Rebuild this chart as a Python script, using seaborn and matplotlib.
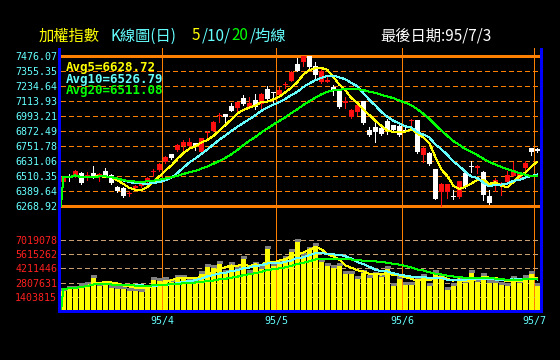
import numpy as np
import pandas as pd
import matplotlib
matplotlib.use("Agg")
import matplotlib.pyplot as plt
from matplotlib.patches import Rectangle
import seaborn as sns

# ---------------- data ----------------
opens = [6462, 6500, 6510, 6532, 6510, 6530, 6505, 6550, 6518, 6416,
         6408, 6365, 6408, 6430, 6457, 6542, 6553, 6618, 6682, 6720,
         6746, 6746, 6770, 6698, 6852, 6873, 6990, 7004, 7068, 7052,
         7132, 7060, 7122, 7087, 7208, 7180, 7160, 7240, 7270, 7409,
         7428, 7470, 7396, 7262, 7262, 7227, 7202, 7098, 6980, 7025,
         7108, 6878, 6899, 6894, 6948, 6918, 6907, 6880, 6950, 6958,
         6677, 6693, 6564, 6382, 6376, 6344, 6336, 6532, 6583, 6575,
         6537, 6350, 6430, 6443, 6457, 6511, 6492, 6569, 6730, 6716]
highs = [6505, 6524, 6556, 6540, 6537, 6591, 6535, 6570, 6525, 6430,
         6422, 6390, 6435, 6457, 6497, 6564, 6612, 6666, 6685, 6765,
         6800, 6811, 6770, 6814, 6873, 6950, 7012, 7004, 7092, 7100,
         7159, 7140, 7165, 7173, 7235, 7181, 7227, 7262, 7350, 7455,
         7476, 7476, 7422, 7369, 7323, 7240, 7205, 7140, 7044, 7095,
         7111, 6899, 6931, 6913, 6966, 6918, 6918, 6913, 6966, 6960,
         6738, 6698, 6566, 6452, 6441, 6398, 6470, 6537, 6626, 6599,
         6550, 6398, 6489, 6457, 6545, 6618, 6543, 6631, 6730, 6730]
lows = [6451, 6470, 6500, 6440, 6478, 6490, 6470, 6505, 6440, 6376,
        6336, 6344, 6398, 6419, 6454, 6505, 6550, 6612, 6647, 6712,
        6720, 6746, 6717, 6690, 6820, 6870, 6945, 6907, 7028, 7020,
        7079, 7052, 7047, 7041, 7122, 7100, 7141, 7216, 7270, 7350,
        7390, 7369, 7288, 7254, 7262, 7160, 7055, 7052, 6977, 7001,
        6928, 6827, 6779, 6837, 6848, 6870, 6827, 6870, 6899, 6690,
        6618, 6600, 6320, 6269, 6331, 6323, 6331, 6409, 6543, 6532,
        6315, 6282, 6390, 6355, 6451, 6505, 6484, 6559, 6677, 6698]
closes = [6497, 6495, 6548, 6451, 6516, 6497, 6527, 6510, 6451, 6384,
          6349, 6370, 6427, 6449, 6494, 6548, 6607, 6658, 6655, 6757,
          6784, 6784, 6752, 6811, 6857, 6945, 6995, 6985, 7028, 7100,
          7087, 7095, 7060, 7165, 7127, 7175, 7200, 7245, 7342, 7355,
          7476, 7382, 7320, 7355, 7278, 7202, 7060, 7102, 7041, 7082,
          6931, 6838, 6864, 6848, 6881, 6881, 6838, 6872, 6955, 6703,
          6730, 6604, 6323, 6444, 6441, 6340, 6465, 6417, 6578, 6580,
          6355, 6290, 6478, 6446, 6518, 6559, 6537, 6610, 6698, 6712]
volumes_m = [2.14, 2.34, 2.34, 2.64, 2.77, 3.44, 2.64, 2.77, 2.44, 2.34,
             2.34, 2.21, 2.21, 2.11, 2.44, 3.31, 3.14, 3.24, 3.04, 3.44,
             3.44, 3.11, 3.11, 3.84, 4.55, 4.45, 4.85, 3.94, 4.75, 4.31,
             5.35, 3.94, 4.75, 4.35, 6.35, 4.65, 4.95, 5.35, 6.05, 7.05,
             5.65, 6.25, 6.65, 5.05, 4.65, 4.45, 4.65, 3.84, 3.84, 3.34,
             3.94, 3.44, 3.74, 3.54, 4.35, 2.64, 3.34, 2.81, 2.81, 3.34,
             3.54, 2.64, 3.94, 3.54, 2.24, 2.64, 3.24, 2.94, 3.94, 3.04,
             3.64, 2.94, 2.94, 2.74, 2.64, 3.34, 2.94, 3.44, 3.84, 2.64]
price_levels = [7476.07, 7355.35, 7234.64, 7113.93, 6993.21, 6872.49,
                6751.78, 6631.06, 6510.35, 6389.64, 6268.92]
volume_levels = [7019078, 5615262, 4211446, 2807631, 1403815]
month_labels = ["95/4", "95/5", "95/6", "95/7"]
month_first_bar = [17, 36, 57, 79]
ma_windows = [5, 10, 20]
avg_names = ["Avg5", "Avg10", "Avg20"]
avg_values = [6628.72, 6526.79, 6511.08]
title_left = "加權指數"
title_k = "K線圖(日)"
title_ma = ["5", "/10/", "20", "/均線"]
title_date = "最後日期:95/7/3"

# ---------------- style ----------------
sns.set_theme(style="dark")
plt.rcParams["font.family"] = ["DejaVu Sans Mono", "Noto Sans CJK TC"]
plt.rcParams["lines.antialiased"] = False
plt.rcParams["patch.antialiased"] = False

BLACK = "#000000"
ORANGE = "#ff8000"
BLUE = "#0000ff"
RED = "#ff1010"
WHITE = "#ffffff"
YELLOW = "#ffff00"
CYAN = "#66ffff"
GREEN = "#00ff00"
TAN = "#c8a070"
GREY = "#808080"
ma_colors = [YELLOW, CYAN, GREEN]
CJK = ["Noto Sans CJK TC", "DejaVu Sans"]
LW = 0.72  # one pixel

W, H = 560, 360
fig = plt.figure(figsize=(W / 100, H / 100), dpi=100, facecolor=BLACK)


def rect(l, t, r, b):
    return [l / W, 1 - b / H, (r - l) / W, (b - t) / H]


X0, X1 = 61, 540
C0, STEP = 63.3, 6.0
xlim = ((X0 - C0) / STEP, (X1 - C0) / STEP)
n = len(closes)
x = np.arange(n)
o = np.array(opens, float)
c = np.array(closes, float)
hi = np.array(highs, float)
lo = np.array(lows, float)
vol = np.array(volumes_m) * 1e6

# background axes for month separators
ax_bg = fig.add_axes(rect(X0, 48, X1, 311))
ax_bg.set_facecolor(BLACK)
ax_bg.set_xlim(*xlim)
ax_bg.set_ylim(0, 1)
for m in month_first_bar:
    ax_bg.axvline(m - 0.5, color=ORANGE, lw=LW)
ax_bg.axis("off")

# ---------------- price panel ----------------
P_TOP, P_BOT = 55.7, 205.7
ptop, pbot = price_levels[0], price_levels[-1]
ppx = (ptop - pbot) / (P_BOT - P_TOP)
ax_p = fig.add_axes(rect(X0, 48, X1, 215))
ax_p.set_facecolor("none")
ax_p.set_xlim(*xlim)
ax_p.set_ylim(pbot - (215 - P_BOT) * ppx, ptop + (P_TOP - 48) * ppx)

for i, lv in enumerate(price_levels):
    if i == 0 or i == len(price_levels) - 1:
        ax_p.axhline(lv, color=ORANGE, lw=LW * 1.4, zorder=1)
    else:
        ax_p.axhline(lv, color=ORANGE, lw=LW, ls=(0, (5, 3)), zorder=1)

up = c > o
cols = np.where(up, RED, WHITE)
ax_p.vlines(x, lo, hi, colors=cols, lw=LW, zorder=3)
body_lo = np.minimum(o, c)
body_h = np.maximum(np.abs(c - o), ppx * 1.2)
ax_p.bar(x, body_h, bottom=body_lo, width=0.8, color=cols, linewidth=0, zorder=4)

cs = pd.Series(c)
for w, col in zip(ma_windows, ma_colors):
    ma = cs.rolling(w, min_periods=1).mean().to_numpy()
    xs = np.concatenate([[xlim[0]], x])
    ys = np.concatenate([[pbot], ma])
    sns.lineplot(x=xs, y=ys, ax=ax_p, color=col, lw=LW, sort=False,
                 estimator=None, legend=False, zorder=5)

ax_p.set_yticks(price_levels)
ax_p.set_yticklabels([f"{v:.2f}" for v in price_levels])
ax_p.tick_params(axis="y", length=0, pad=2.7, labelsize=7.2, labelcolor=CYAN)
ax_p.set_xticks([])
ax_p.set_xlabel("")
ax_p.set_ylabel("")
ax_p.grid(False)
for s in ax_p.spines.values():
    s.set_visible(False)

# ---------------- volume panel ----------------
V_ZERO = 310.7
vpx = volume_levels[0] / (V_ZERO - 240.3)
ax_v = fig.add_axes(rect(X0, 232, X1, V_ZERO))
ax_v.set_facecolor("none")
ax_v.set_xlim(*xlim)
ax_v.set_ylim(0, (V_ZERO - 232) * vpx)
for lv in volume_levels:
    ax_v.axhline(lv, color=TAN, lw=LW, ls=(0, (5, 3)), zorder=1)
ax_v.bar(x, vol, width=0.83, color=YELLOW, linewidth=0, zorder=2)
ax_v.hlines(vol, x - 0.415, x + 0.415, colors=GREY, lw=LW * 1.4, zorder=3)

vs = pd.Series(vol)
for w, col in zip(ma_windows, ma_colors):
    ma = vs.rolling(w, min_periods=1).mean().to_numpy()
    xs = np.concatenate([[xlim[0]], x])
    ys = np.concatenate([[0], ma])
    sns.lineplot(x=xs, y=ys, ax=ax_v, color=col, lw=LW, sort=False,
                 estimator=None, legend=False, zorder=5)

ax_v.set_yticks(volume_levels)
ax_v.set_yticklabels([str(v) for v in volume_levels])
ax_v.tick_params(axis="y", length=0, pad=2.7, labelsize=7.2, labelcolor="#ff2020")
ax_v.set_xticks([m - 0.5 for m in month_first_bar])
ax_v.set_xticklabels(month_labels)
ax_v.tick_params(axis="x", length=0, pad=4.0, labelsize=7.2, labelcolor=CYAN)
ax_v.set_xlabel("")
ax_v.set_ylabel("")
ax_v.grid(False)
for s in ax_v.spines.values():
    s.set_visible(False)

# ---------------- blue frame ----------------
for (l, t, r, b) in [(58, 48, 61, 313), (540, 48, 543, 313), (58, 310, 543, 313)]:
    fig.add_artist(Rectangle((l / W, 1 - b / H), (r - l) / W, (b - t) / H,
                             transform=fig.transFigure, color=BLUE, lw=0, zorder=10))

# ---------------- texts ----------------
renderer = fig.canvas.get_renderer()


def ftext(px, py, s, color, **kw):
    return fig.text(px / W, 1 - py / H, s, color=color, **kw)


TB = 40.5
ftext(39, TB, title_left, YELLOW, family=CJK, fontsize=11, va="baseline")
ftext(110, TB, title_k, CYAN, family=CJK, fontsize=11, va="baseline")
px = 192
for s, col in zip(title_ma, [YELLOW, CYAN, GREEN, CYAN]):
    t = ftext(px, TB, s, col, family=CJK, fontsize=11, va="baseline")
    bb = t.get_window_extent(renderer)
    px += bb.width + 1
ftext(380, TB, title_date, WHITE, family=CJK, fontsize=11, va="baseline")

for py, name, val, col in zip([71, 82.5, 94], avg_names, avg_values, ma_colors):
    ftext(66, py, f"{name}={val:.2f}", col, family="DejaVu Sans Mono",
          fontsize=9, fontweight="bold", va="baseline")

fig.savefig("out.png", dpi=100, facecolor=BLACK)
